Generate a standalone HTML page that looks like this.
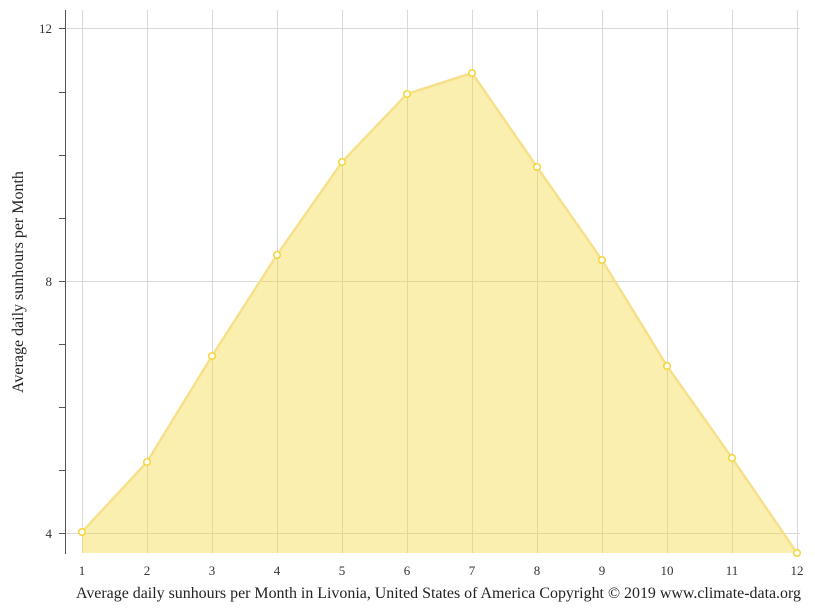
<!DOCTYPE html>
<html><head><meta charset="utf-8"><style>
html,body{margin:0;padding:0;background:#fff;}
svg{display:block;font-family:"Liberation Serif",serif;}
</style></head><body>
<svg width="815" height="611" viewBox="0 0 815 611" xmlns="http://www.w3.org/2000/svg">
<g stroke="#d9d9d9" stroke-width="1">
<line x1="82.5" y1="10" x2="82.5" y2="553"/>
<line x1="147.5" y1="10" x2="147.5" y2="553"/>
<line x1="212.5" y1="10" x2="212.5" y2="553"/>
<line x1="277.5" y1="10" x2="277.5" y2="553"/>
<line x1="342.5" y1="10" x2="342.5" y2="553"/>
<line x1="407.5" y1="10" x2="407.5" y2="553"/>
<line x1="472.5" y1="10" x2="472.5" y2="553"/>
<line x1="537.5" y1="10" x2="537.5" y2="553"/>
<line x1="602.5" y1="10" x2="602.5" y2="553"/>
<line x1="667.5" y1="10" x2="667.5" y2="553"/>
<line x1="732.5" y1="10" x2="732.5" y2="553"/>
<line x1="797.5" y1="10" x2="797.5" y2="553"/>
<line x1="65" y1="28.5" x2="800" y2="28.5"/>
<line x1="65" y1="281.5" x2="800" y2="281.5"/>
<line x1="65" y1="533.5" x2="800" y2="533.5"/>
</g>
<polygon points="82,532 147,462 212,356 277,255 342,162 407,94 472,73 537,167 602,260 667,366 732,458 797,553 82,553" fill="#f5d83a" fill-opacity="0.4"/>
<polyline points="82,532 147,462 212,356 277,255 342,162 407,94 472,73 537,167 602,260 667,366 732,458 797,553" fill="none" stroke="#f7e08a" stroke-width="2.5"/>
<g fill="#fff" stroke="#f5d53a" stroke-width="1.5">
<circle cx="82" cy="532" r="3.3"/><circle cx="147" cy="462" r="3.3"/><circle cx="212" cy="356" r="3.3"/><circle cx="277" cy="255" r="3.3"/><circle cx="342" cy="162" r="3.3"/><circle cx="407" cy="94" r="3.3"/><circle cx="472" cy="73" r="3.3"/><circle cx="537" cy="167" r="3.3"/><circle cx="602" cy="260" r="3.3"/><circle cx="667" cy="366" r="3.3"/><circle cx="732" cy="458" r="3.3"/><circle cx="797" cy="553" r="3.3"/>
</g>
<g stroke="#555" stroke-width="1">
<line x1="65.5" y1="10" x2="65.5" y2="554"/>
<line x1="59" y1="28.5" x2="65" y2="28.5"/>
<line x1="59" y1="92.5" x2="65" y2="92.5"/>
<line x1="59" y1="155.5" x2="65" y2="155.5"/>
<line x1="59" y1="218.5" x2="65" y2="218.5"/>
<line x1="59" y1="281.5" x2="65" y2="281.5"/>
<line x1="59" y1="344.5" x2="65" y2="344.5"/>
<line x1="59" y1="407.5" x2="65" y2="407.5"/>
<line x1="59" y1="470.5" x2="65" y2="470.5"/>
<line x1="59" y1="533.5" x2="65" y2="533.5"/>
</g>
<g font-size="13" fill="#333" text-anchor="end">
<text x="52" y="33">12</text><text x="52" y="286">8</text><text x="52" y="538">4</text>
</g>
<g font-size="13" fill="#333" text-anchor="middle">
<text x="82" y="575">1</text><text x="147" y="575">2</text><text x="212" y="575">3</text><text x="277" y="575">4</text><text x="342" y="575">5</text><text x="407" y="575">6</text><text x="472" y="575">7</text><text x="537" y="575">8</text><text x="602" y="575">9</text><text x="667" y="575">10</text><text x="732" y="575">11</text><text x="797" y="575">12</text>
</g>
<text x="438.5" y="598" font-size="16" fill="#222" text-anchor="middle" textLength="725" lengthAdjust="spacingAndGlyphs">Average daily sunhours per Month in Livonia, United States of America Copyright © 2019 www.climate-data.org</text>
<text transform="translate(23,282) rotate(-90)" font-size="16" fill="#222" text-anchor="middle">Average daily sunhours per Month</text>
</svg>
</body></html>
